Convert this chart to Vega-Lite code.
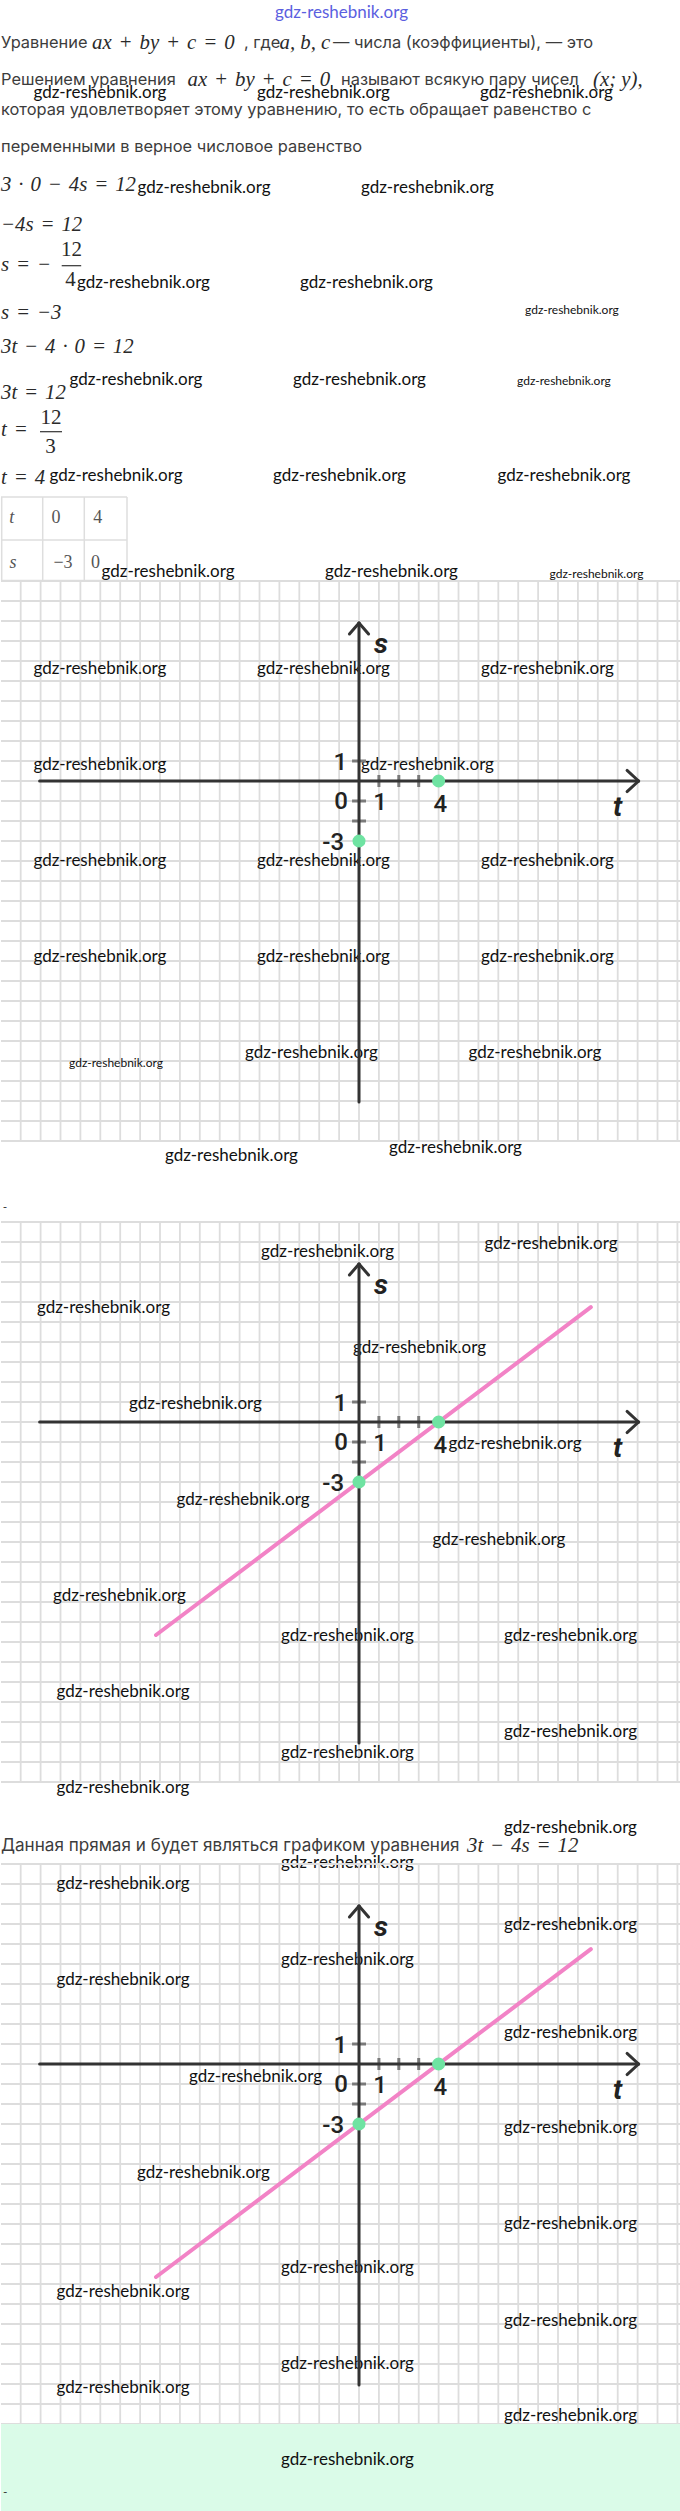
{
  "$schema": "https://vega.github.io/schema/vega-lite/v6.json",
  "padding": 0,
  "spacing": 0,
  "bounds": "flush",
  "background": "white",
  "config": {"view": {"stroke": null}},
  "datasets": {
    "introText": [
      {"h": 0, "v": 43.3, "txt": "Уравнение"},
      {"h": 243, "v": 43.3, "txt": ", где"},
      {"h": 332, "v": 43.3, "txt": "— числа (коэффициенты), — это"},
      {"h": 0, "v": 80, "txt": "Решением уравнения"},
      {"h": 340, "v": 80, "txt": "называют всякую пару чисел"},
      {"h": 0, "v": 110, "txt": "которая удовлетворяет этому уравнению, то есть обращает равенство с"},
      {"h": 0, "v": 146.7, "txt": "переменными в верное числовое равенство"}
    ],
    "introMath": [
      {"h": 91, "v": 43.3, "txt": "ax\u2004+\u2004by\u2004+\u2004c\u2004=\u20040"},
      {"h": 278.5, "v": 43.3, "txt": "a, b, c"},
      {"h": 186.5, "v": 80, "txt": "ax\u2004+\u2004by\u2004+\u2004c\u2004=\u20040"},
      {"h": 592, "v": 80, "txt": "(x; y),"},
      {"h": 0, "v": 185, "txt": "3\u2004·\u20040\u2004−\u20044s\u2004=\u200412"},
      {"h": 0, "v": 225, "txt": "−4s\u2004=\u200412"},
      {"h": 0, "v": 265, "txt": "s\u2004=\u2004−"},
      {"h": 0, "v": 312.7, "txt": "s\u2004=\u2004−3"},
      {"h": 0, "v": 346.7, "txt": "3t\u2004−\u20044\u2004·\u20040\u2004=\u200412"},
      {"h": 0, "v": 393, "txt": "3t\u2004=\u200412"},
      {"h": 0, "v": 430, "txt": "t\u2004="},
      {"h": 0, "v": 478.3, "txt": "t\u2004=\u20044"}
    ],
    "introNumbers": [
      {"h": 70.4, "v": 250, "txt": "12"},
      {"h": 69.4, "v": 280, "txt": "4"},
      {"h": 50, "v": 418.3, "txt": "12"},
      {"h": 49.5, "v": 446.7, "txt": "3"}
    ],
    "fractionBars": [
      {"h": 60.7, "v": 265.7, "h2": 80.2, "v2": 265.7},
      {"h": 39, "v": 431.7, "h2": 61, "v2": 431.7}
    ],
    "tableLines": [
      {"h": 0, "v": 497, "h2": 126, "v2": 497},
      {"h": 0, "v": 540, "h2": 126, "v2": 540},
      {"h": 0, "v": 580.5, "h2": 126, "v2": 580.5},
      {"h": 0.7, "v": 497, "h2": 0.7, "v2": 581},
      {"h": 41.7, "v": 497, "h2": 41.7, "v2": 581},
      {"h": 83.3, "v": 497, "h2": 83.3, "v2": 581},
      {"h": 126, "v": 497, "h2": 126, "v2": 581}
    ],
    "tableVars": [
      {"h": 10.8, "v": 518, "txt": "t"},
      {"h": 12, "v": 563, "txt": "s"}
    ],
    "tableNumbers": [
      {"h": 55, "v": 518, "txt": "0"},
      {"h": 96.7, "v": 518, "txt": "4"},
      {"h": 62, "v": 563, "txt": "−3"},
      {"h": 94.5, "v": 563, "txt": "0"}
    ],
    "introMarks": [
      {"h": 32.5, "v": 93}, {"h": 256, "v": 93}, {"h": 479, "v": 93},
      {"h": 136.6, "v": 188.3}, {"h": 360, "v": 188.3},
      {"h": 76, "v": 283.3}, {"h": 299, "v": 283.3},
      {"h": 68.5, "v": 380}, {"h": 292, "v": 380},
      {"h": 48.6, "v": 476}, {"h": 272, "v": 476}, {"h": 496.5, "v": 476},
      {"h": 100.6, "v": 571.7}, {"h": 324, "v": 571.7}
    ],
    "introMarksSmall": [
      {"h": 524, "v": 310}, {"h": 516, "v": 381}, {"h": 548.6, "v": 574}
    ],
    "siteHeader": [{"h": 340.5, "v": 12.7, "txt": "gdz-reshebnik.org"}],
    "gridT": [
      {"t": -17}, {"t": -16}, {"t": -15}, {"t": -14}, {"t": -13}, {"t": -12}, {"t": -11}, {"t": -10}, {"t": -9},
      {"t": -8}, {"t": -7}, {"t": -6}, {"t": -5}, {"t": -4}, {"t": -3}, {"t": -2}, {"t": -1}, {"t": 0},
      {"t": 1}, {"t": 2}, {"t": 3}, {"t": 4}, {"t": 5}, {"t": 6}, {"t": 7}, {"t": 8}, {"t": 9},
      {"t": 10}, {"t": 11}, {"t": 12}, {"t": 13}, {"t": 14}, {"t": 15}, {"t": 16}
    ],
    "gridS": [
      {"s": -18}, {"s": -17}, {"s": -16}, {"s": -15}, {"s": -14}, {"s": -13}, {"s": -12}, {"s": -11}, {"s": -10},
      {"s": -9}, {"s": -8}, {"s": -7}, {"s": -6}, {"s": -5}, {"s": -4}, {"s": -3}, {"s": -2}, {"s": -1}, {"s": 0},
      {"s": 1}, {"s": 2}, {"s": 3}, {"s": 4}, {"s": 5}, {"s": 6}, {"s": 7}, {"s": 8}, {"s": 9}, {"s": 10}
    ],
    "axisLines": [
      {"t": -16.05, "s": 0, "t2": 14.05, "s2": 0},
      {"t": 0, "s": 7.9, "t2": 0, "s2": -16.05},
      {"t": 14.05, "s": 0, "t2": 13.47, "s2": 0.53},
      {"t": 14.05, "s": 0, "t2": 13.47, "s2": -0.53},
      {"t": 0, "s": 7.9, "t2": -0.48, "s2": 7.35},
      {"t": 0, "s": 7.9, "t2": 0.48, "s2": 7.35}
    ],
    "tickMarks": [
      {"t": 1, "s": -0.3, "t2": 1, "s2": 0.3},
      {"t": 2, "s": -0.3, "t2": 2, "s2": 0.3},
      {"t": 3, "s": -0.3, "t2": 3, "s2": 0.3},
      {"t": -0.35, "s": 1, "t2": 0.35, "s2": 1},
      {"t": -0.35, "s": -1, "t2": 0.35, "s2": -1},
      {"t": -0.35, "s": -2, "t2": 0.35, "s2": -2}
    ],
    "axisLabels": [
      {"t": -0.94, "s": 0.88, "label": "1"},
      {"t": -0.9, "s": -1.03, "label": "0"},
      {"t": 1.06, "s": -1.1, "label": "1"},
      {"t": 4.09, "s": -1.2, "label": "4"},
      {"t": -1.3, "s": -3.1, "label": "-3"}
    ],
    "axisNames": [
      {"t": 1.1, "s": 6.8, "label": "s"},
      {"t": 13.0, "s": -1.37, "label": "t"}
    ],
    "solutions": [{"t": 0, "s": -3}, {"t": 4, "s": 0}],
    "graphLine": [{"t": -10.2, "s": -10.65}, {"t": 11.65, "s": 5.74}],
    "marks1": [
      {"t": -16.36, "s": 5.61}, {"t": -5.13, "s": 5.61}, {"t": 6.13, "s": 5.61},
      {"t": -16.36, "s": 0.81}, {"t": 0.1, "s": 0.81},
      {"t": -16.36, "s": -3.98}, {"t": -5.13, "s": -3.98}, {"t": 6.13, "s": -3.98},
      {"t": -16.36, "s": -8.8}, {"t": -5.13, "s": -8.8}, {"t": 6.13, "s": -8.8},
      {"t": -5.73, "s": -13.58}, {"t": 5.5, "s": -13.58}
    ],
    "marks1Small": [{"t": -14.57, "s": -14.1}],
    "marks2": [
      {"t": -4.92, "s": 8.5}, {"t": 6.31, "s": 8.9}, {"t": -16.18, "s": 5.7},
      {"t": -0.3, "s": 3.68}, {"t": -11.56, "s": 0.9}, {"t": 4.5, "s": -1.1},
      {"t": -9.17, "s": -3.88}, {"t": 3.69, "s": -5.89}, {"t": -15.38, "s": -8.7},
      {"t": -3.92, "s": -10.7}, {"t": 7.29, "s": -10.7}, {"t": -15.2, "s": -13.5},
      {"t": 7.29, "s": -15.5}, {"t": -3.92, "s": -16.55}
    ],
    "marks3": [
      {"t": -15.2, "s": 8.98}, {"t": 7.29, "s": 6.97}, {"t": -3.92, "s": 5.18},
      {"t": -15.2, "s": 4.18}, {"t": 7.29, "s": 1.57}, {"t": -8.54, "s": -0.65},
      {"t": 7.29, "s": -3.2}, {"t": -11.16, "s": -5.43}, {"t": 7.29, "s": -8.0},
      {"t": -3.92, "s": -10.2}, {"t": -15.2, "s": -11.42}, {"t": 7.29, "s": -12.85},
      {"t": -3.92, "s": -14.99}, {"t": -15.2, "s": -16.2}, {"t": 7.29, "s": -17.62}
    ],
    "gapMarks1": [{"h": 164, "v": 15}, {"h": 388, "v": 7}],
    "gapDash1": [{"h": 1.7, "v": 65.7, "txt": "-"}],
    "gapMarks2": [{"h": 55.5, "v": 6.4}, {"h": 503, "v": 46}, {"h": 280, "v": 81}],
    "gapText2": [{"h": 0, "v": 64, "txt": "Данная прямая и будет являться графиком уравнения"}],
    "gapMath2": [{"h": 466, "v": 64, "txt": "3t\u2004−\u20044s\u2004=\u200412"}],
    "footMarks": [{"h": 280, "v": 35.7}],
    "footDash": [{"h": 2, "v": 68, "txt": "-"}]
  },
  "vconcat": [
    {
      "width": 680, "height": 581,
      "layer": [
        {"data": {"name": "tableLines"}, "mark": {"type": "rule", "color": "#dedede", "strokeWidth": 1.5},
         "encoding": {"x": {"field": "h", "type": "quantitative", "scale": {"domain": [0, 680], "nice": false, "zero": false}, "axis": null},
                      "y": {"field": "v", "type": "quantitative", "scale": {"domain": [0, 581], "nice": false, "zero": false, "reverse": true}, "axis": null},
                      "x2": {"field": "h2"}, "y2": {"field": "v2"}}},
        {"data": {"name": "fractionBars"}, "mark": {"type": "rule", "color": "#333333", "strokeWidth": 1.2},
         "encoding": {"x": {"field": "h", "type": "quantitative", "axis": null}, "y": {"field": "v", "type": "quantitative", "axis": null}, "x2": {"field": "h2"}, "y2": {"field": "v2"}}},
        {"data": {"name": "introText"}, "mark": {"type": "text", "font": "Inter", "fontSize": 16.4, "color": "#3c3c3c", "align": "left", "baseline": "middle"},
         "encoding": {"x": {"field": "h", "type": "quantitative", "axis": null}, "y": {"field": "v", "type": "quantitative", "axis": null}, "text": {"field": "txt"}}},
        {"data": {"name": "introMath"}, "mark": {"type": "text", "font": "Liberation Serif", "fontStyle": "italic", "fontSize": 20.8, "color": "#2a2a2a", "align": "left", "baseline": "middle"},
         "encoding": {"x": {"field": "h", "type": "quantitative", "axis": null}, "y": {"field": "v", "type": "quantitative", "axis": null}, "text": {"field": "txt"}}},
        {"data": {"name": "introNumbers"}, "mark": {"type": "text", "font": "Liberation Serif", "fontSize": 21, "color": "#2a2a2a", "align": "center", "baseline": "middle"},
         "encoding": {"x": {"field": "h", "type": "quantitative", "axis": null}, "y": {"field": "v", "type": "quantitative", "axis": null}, "text": {"field": "txt"}}},
        {"data": {"name": "tableVars"}, "mark": {"type": "text", "font": "Liberation Serif", "fontStyle": "italic", "fontSize": 18, "color": "#555555", "align": "center", "baseline": "middle"},
         "encoding": {"x": {"field": "h", "type": "quantitative", "axis": null}, "y": {"field": "v", "type": "quantitative", "axis": null}, "text": {"field": "txt"}}},
        {"data": {"name": "tableNumbers"}, "mark": {"type": "text", "font": "Liberation Serif", "fontSize": 18, "color": "#555555", "align": "center", "baseline": "middle"},
         "encoding": {"x": {"field": "h", "type": "quantitative", "axis": null}, "y": {"field": "v", "type": "quantitative", "axis": null}, "text": {"field": "txt"}}},
        {"data": {"name": "introMarks"}, "mark": {"type": "text", "font": "Lato", "fontSize": 17, "color": "#111111", "align": "left", "baseline": "middle"},
         "encoding": {"x": {"field": "h", "type": "quantitative", "axis": null}, "y": {"field": "v", "type": "quantitative", "axis": null}, "text": {"value": "gdz-reshebnik.org"}}},
        {"data": {"name": "introMarksSmall"}, "mark": {"type": "text", "font": "Lato", "fontSize": 12, "color": "#111111", "align": "left", "baseline": "middle"},
         "encoding": {"x": {"field": "h", "type": "quantitative", "axis": null}, "y": {"field": "v", "type": "quantitative", "axis": null}, "text": {"value": "gdz-reshebnik.org"}}},
        {"data": {"name": "siteHeader"}, "mark": {"type": "text", "font": "Lato", "fontSize": 17, "color": "#5b5fe0", "align": "center", "baseline": "middle"},
         "encoding": {"x": {"field": "h", "type": "quantitative", "axis": null}, "y": {"field": "v", "type": "quantitative", "axis": null}, "text": {"field": "txt"}}}
      ]
    },
    {
      "width": 680, "height": 560,
      "layer": [
        {"data": {"name": "gridT"}, "mark": {"type": "rule", "color": "#dddddd", "strokeWidth": 1.8},
         "encoding": {"x": {"field": "t", "type": "quantitative", "scale": {"domain": [-17.99, 16.18], "nice": false, "zero": false}, "axis": null}}},
        {"data": {"name": "gridS"}, "mark": {"type": "rule", "color": "#dddddd", "strokeWidth": 1.8},
         "encoding": {"y": {"field": "s", "type": "quantitative", "scale": {"domain": [-18, 10], "nice": false, "zero": false}, "axis": null}}},
        {"data": {"name": "marks1"}, "mark": {"type": "text", "font": "Lato", "fontSize": 17, "color": "#111111", "align": "left", "baseline": "middle"},
         "encoding": {"x": {"field": "t", "type": "quantitative", "axis": null}, "y": {"field": "s", "type": "quantitative", "axis": null}, "text": {"value": "gdz-reshebnik.org"}}},
        {"data": {"name": "marks1Small"}, "mark": {"type": "text", "font": "Lato", "fontSize": 12, "color": "#111111", "align": "left", "baseline": "middle"},
         "encoding": {"x": {"field": "t", "type": "quantitative", "axis": null}, "y": {"field": "s", "type": "quantitative", "axis": null}, "text": {"value": "gdz-reshebnik.org"}}},
        {"data": {"name": "tickMarks"}, "mark": {"type": "rule", "color": "#7a7a7a", "strokeWidth": 3},
         "encoding": {"x": {"field": "t", "type": "quantitative", "axis": null}, "y": {"field": "s", "type": "quantitative", "axis": null}, "x2": {"field": "t2"}, "y2": {"field": "s2"}}},
        {"data": {"name": "axisLines"}, "mark": {"type": "rule", "color": "#333333", "strokeWidth": 3, "strokeCap": "round"},
         "encoding": {"x": {"field": "t", "type": "quantitative", "axis": null}, "y": {"field": "s", "type": "quantitative", "axis": null}, "x2": {"field": "t2"}, "y2": {"field": "s2"}}},
        {"data": {"name": "solutions"}, "mark": {"type": "circle", "color": "#6fe3a2", "opacity": 1, "size": 170},
         "encoding": {"x": {"field": "t", "type": "quantitative", "axis": null}, "y": {"field": "s", "type": "quantitative", "axis": null}}},
        {"data": {"name": "axisLabels"}, "mark": {"type": "text", "font": "Roboto", "fontWeight": 500, "fontSize": 24, "color": "#222222", "align": "center", "baseline": "middle"},
         "encoding": {"x": {"field": "t", "type": "quantitative", "axis": null}, "y": {"field": "s", "type": "quantitative", "axis": null}, "text": {"field": "label"}}},
        {"data": {"name": "axisNames"}, "mark": {"type": "text", "font": "Roboto", "fontStyle": "italic", "fontWeight": "bold", "fontSize": 28, "color": "#222222", "align": "center", "baseline": "middle"},
         "encoding": {"x": {"field": "t", "type": "quantitative", "axis": null}, "y": {"field": "s", "type": "quantitative", "axis": null}, "text": {"field": "label"}}}
      ]
    },
    {
      "width": 680, "height": 81,
      "layer": [
        {"data": {"name": "gapMarks1"}, "mark": {"type": "text", "font": "Lato", "fontSize": 17, "color": "#111111", "align": "left", "baseline": "middle"},
         "encoding": {"x": {"field": "h", "type": "quantitative", "scale": {"domain": [0, 680], "nice": false, "zero": false}, "axis": null},
                      "y": {"field": "v", "type": "quantitative", "scale": {"domain": [0, 81], "nice": false, "zero": false, "reverse": true}, "axis": null},
                      "text": {"value": "gdz-reshebnik.org"}}},
        {"data": {"name": "gapDash1"}, "mark": {"type": "text", "font": "Lato", "fontSize": 12, "color": "#333333", "align": "left", "baseline": "middle"},
         "encoding": {"x": {"field": "h", "type": "quantitative", "axis": null}, "y": {"field": "v", "type": "quantitative", "axis": null}, "text": {"field": "txt"}}}
      ]
    },
    {
      "width": 680, "height": 560,
      "layer": [
        {"data": {"name": "gridT"}, "mark": {"type": "rule", "color": "#dddddd", "strokeWidth": 1.8},
         "encoding": {"x": {"field": "t", "type": "quantitative", "scale": {"domain": [-17.99, 16.18], "nice": false, "zero": false}, "axis": null}}},
        {"data": {"name": "gridS"}, "mark": {"type": "rule", "color": "#dddddd", "strokeWidth": 1.8},
         "encoding": {"y": {"field": "s", "type": "quantitative", "scale": {"domain": [-18, 10], "nice": false, "zero": false}, "axis": null}}},
        {"data": {"name": "marks2"}, "mark": {"type": "text", "font": "Lato", "fontSize": 17, "color": "#111111", "align": "left", "baseline": "middle"},
         "encoding": {"x": {"field": "t", "type": "quantitative", "axis": null}, "y": {"field": "s", "type": "quantitative", "axis": null}, "text": {"value": "gdz-reshebnik.org"}}},
        {"data": {"name": "tickMarks"}, "mark": {"type": "rule", "color": "#7a7a7a", "strokeWidth": 3},
         "encoding": {"x": {"field": "t", "type": "quantitative", "axis": null}, "y": {"field": "s", "type": "quantitative", "axis": null}, "x2": {"field": "t2"}, "y2": {"field": "s2"}}},
        {"data": {"name": "axisLines"}, "mark": {"type": "rule", "color": "#333333", "strokeWidth": 3, "strokeCap": "round"},
         "encoding": {"x": {"field": "t", "type": "quantitative", "axis": null}, "y": {"field": "s", "type": "quantitative", "axis": null}, "x2": {"field": "t2"}, "y2": {"field": "s2"}}},
        {"data": {"name": "graphLine"}, "mark": {"type": "line", "color": "#f283c6", "strokeWidth": 4, "strokeCap": "round"},
         "encoding": {"x": {"field": "t", "type": "quantitative", "axis": null}, "y": {"field": "s", "type": "quantitative", "axis": null}}},
        {"data": {"name": "solutions"}, "mark": {"type": "circle", "color": "#6fe3a2", "opacity": 1, "size": 170},
         "encoding": {"x": {"field": "t", "type": "quantitative", "axis": null}, "y": {"field": "s", "type": "quantitative", "axis": null}}},
        {"data": {"name": "axisLabels"}, "mark": {"type": "text", "font": "Roboto", "fontWeight": 500, "fontSize": 24, "color": "#222222", "align": "center", "baseline": "middle"},
         "encoding": {"x": {"field": "t", "type": "quantitative", "axis": null}, "y": {"field": "s", "type": "quantitative", "axis": null}, "text": {"field": "label"}}},
        {"data": {"name": "axisNames"}, "mark": {"type": "text", "font": "Roboto", "fontStyle": "italic", "fontWeight": "bold", "fontSize": 28, "color": "#222222", "align": "center", "baseline": "middle"},
         "encoding": {"x": {"field": "t", "type": "quantitative", "axis": null}, "y": {"field": "s", "type": "quantitative", "axis": null}, "text": {"field": "label"}}}
      ]
    },
    {
      "width": 680, "height": 82,
      "layer": [
        {"data": {"name": "gapText2"}, "mark": {"type": "text", "font": "Inter", "fontSize": 17.1, "color": "#3c3c3c", "align": "left", "baseline": "middle"},
         "encoding": {"x": {"field": "h", "type": "quantitative", "scale": {"domain": [0, 680], "nice": false, "zero": false}, "axis": null},
                      "y": {"field": "v", "type": "quantitative", "scale": {"domain": [0, 82], "nice": false, "zero": false, "reverse": true}, "axis": null},
                      "text": {"field": "txt"}}},
        {"data": {"name": "gapMath2"}, "mark": {"type": "text", "font": "Liberation Serif", "fontStyle": "italic", "fontSize": 20.8, "color": "#2a2a2a", "align": "left", "baseline": "middle"},
         "encoding": {"x": {"field": "h", "type": "quantitative", "axis": null}, "y": {"field": "v", "type": "quantitative", "axis": null}, "text": {"field": "txt"}}},
        {"data": {"name": "gapMarks2"}, "mark": {"type": "text", "font": "Lato", "fontSize": 17, "color": "#111111", "align": "left", "baseline": "middle"},
         "encoding": {"x": {"field": "h", "type": "quantitative", "axis": null}, "y": {"field": "v", "type": "quantitative", "axis": null}, "text": {"value": "gdz-reshebnik.org"}}}
      ]
    },
    {
      "width": 680, "height": 560,
      "layer": [
        {"data": {"name": "gridT"}, "mark": {"type": "rule", "color": "#dddddd", "strokeWidth": 1.8},
         "encoding": {"x": {"field": "t", "type": "quantitative", "scale": {"domain": [-17.99, 16.18], "nice": false, "zero": false}, "axis": null}}},
        {"data": {"name": "gridS"}, "mark": {"type": "rule", "color": "#dddddd", "strokeWidth": 1.8},
         "encoding": {"y": {"field": "s", "type": "quantitative", "scale": {"domain": [-18, 10], "nice": false, "zero": false}, "axis": null}}},
        {"data": {"name": "marks3"}, "mark": {"type": "text", "font": "Lato", "fontSize": 17, "color": "#111111", "align": "left", "baseline": "middle"},
         "encoding": {"x": {"field": "t", "type": "quantitative", "axis": null}, "y": {"field": "s", "type": "quantitative", "axis": null}, "text": {"value": "gdz-reshebnik.org"}}},
        {"data": {"name": "tickMarks"}, "mark": {"type": "rule", "color": "#7a7a7a", "strokeWidth": 3},
         "encoding": {"x": {"field": "t", "type": "quantitative", "axis": null}, "y": {"field": "s", "type": "quantitative", "axis": null}, "x2": {"field": "t2"}, "y2": {"field": "s2"}}},
        {"data": {"name": "axisLines"}, "mark": {"type": "rule", "color": "#333333", "strokeWidth": 3, "strokeCap": "round"},
         "encoding": {"x": {"field": "t", "type": "quantitative", "axis": null}, "y": {"field": "s", "type": "quantitative", "axis": null}, "x2": {"field": "t2"}, "y2": {"field": "s2"}}},
        {"data": {"name": "graphLine"}, "mark": {"type": "line", "color": "#f283c6", "strokeWidth": 4, "strokeCap": "round"},
         "encoding": {"x": {"field": "t", "type": "quantitative", "axis": null}, "y": {"field": "s", "type": "quantitative", "axis": null}}},
        {"data": {"name": "solutions"}, "mark": {"type": "circle", "color": "#6fe3a2", "opacity": 1, "size": 170},
         "encoding": {"x": {"field": "t", "type": "quantitative", "axis": null}, "y": {"field": "s", "type": "quantitative", "axis": null}}},
        {"data": {"name": "axisLabels"}, "mark": {"type": "text", "font": "Roboto", "fontWeight": 500, "fontSize": 24, "color": "#222222", "align": "center", "baseline": "middle"},
         "encoding": {"x": {"field": "t", "type": "quantitative", "axis": null}, "y": {"field": "s", "type": "quantitative", "axis": null}, "text": {"field": "label"}}},
        {"data": {"name": "axisNames"}, "mark": {"type": "text", "font": "Roboto", "fontStyle": "italic", "fontWeight": "bold", "fontSize": 28, "color": "#222222", "align": "center", "baseline": "middle"},
         "encoding": {"x": {"field": "t", "type": "quantitative", "axis": null}, "y": {"field": "s", "type": "quantitative", "axis": null}, "text": {"field": "label"}}}
      ]
    },
    {
      "width": 680, "height": 87,
      "view": {"fill": "#dafbe8", "stroke": null},
      "layer": [
        {"data": {"name": "footMarks"}, "mark": {"type": "text", "font": "Lato", "fontSize": 17, "color": "#111111", "align": "left", "baseline": "middle"},
         "encoding": {"x": {"field": "h", "type": "quantitative", "scale": {"domain": [0, 680], "nice": false, "zero": false}, "axis": null},
                      "y": {"field": "v", "type": "quantitative", "scale": {"domain": [0, 87], "nice": false, "zero": false, "reverse": true}, "axis": null},
                      "text": {"value": "gdz-reshebnik.org"}}},
        {"data": {"name": "footDash"}, "mark": {"type": "text", "font": "Lato", "fontSize": 12, "color": "#333333", "align": "left", "baseline": "middle"},
         "encoding": {"x": {"field": "h", "type": "quantitative", "axis": null}, "y": {"field": "v", "type": "quantitative", "axis": null}, "text": {"field": "txt"}}}
      ]
    }
  ]
}
